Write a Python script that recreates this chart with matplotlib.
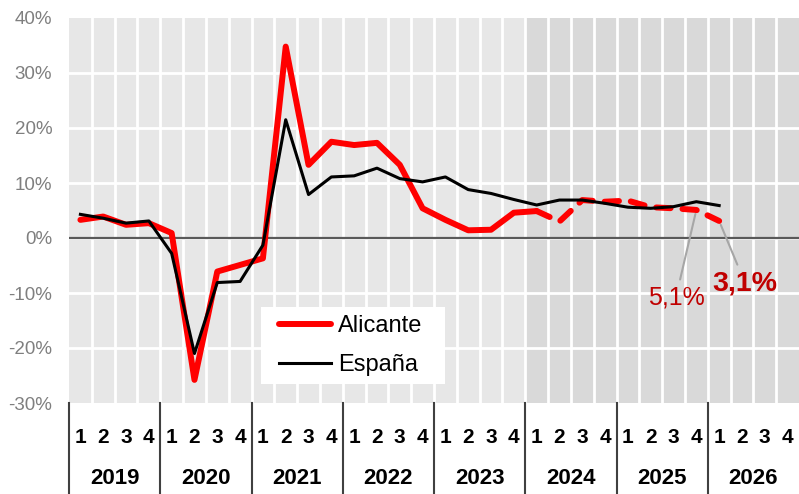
import matplotlib
matplotlib.use("Agg")
import matplotlib.pyplot as plt
from matplotlib.patches import Rectangle
from matplotlib.transforms import IdentityTransform
import numpy as np

plt.rcParams['font.family'] = ['Liberation Sans', 'DejaVu Sans']

years = ['2019', '2020', '2021', '2022', '2023', '2024', '2025', '2026']
quarter_labels = ['1', '2', '3', '4']

# Alicante observed (2019Q1 .. 2024Q1)
alicante_obs = [3.3, 3.9, 2.4, 2.7,
                0.9, -25.8, -6.1, -4.9,
                -3.7, 34.8, 13.3, 17.5,
                16.9, 17.3, 13.3, 5.4,
                3.3, 1.4, 1.5, 4.6,
                4.9]
# Alicante forecast (2024Q1 .. 2026Q1)
alicante_fc = [4.9, 3.0, 6.9, 6.6, 6.8, 5.6, 5.4, 5.1, 3.1]
# España (2019Q1 .. 2026Q1)
espana = [4.3, 3.6, 2.7, 3.1,
          -2.8, -21.0, -8.1, -7.9,
          -1.3, 21.5, 7.9, 11.1,
          11.3, 12.7, 10.8, 10.2,
          11.1, 8.8, 8.1, 7.0,
          6.0, 6.9, 6.9, 6.3,
          5.6, 5.4, 5.7, 6.6,
          5.9]
yticks = [-30, -20, -10, 0, 10, 20, 30, 40]
forecast_start = 20  # quarter index where shaded area starts
n_quarters = len(years) * 4

W, H = 799, 494
fig = plt.figure(figsize=(W / 100, H / 100), dpi=100)
left, right, top, bottom = 69, 799, 18, 403
ax = fig.add_axes([left / W, 1 - bottom / H, (right - left) / W, (bottom - top) / H])

ax.set_xlim(0, n_quarters)
ax.set_ylim(-30, 40)
ax.set_facecolor('#e7e7e7')
ax.axvspan(forecast_start, n_quarters, color='#d9d9d9', zorder=0, lw=0)

for x in range(1, n_quarters):
    ax.axvline(x, color='white', lw=2.0, zorder=1)
for y in yticks[1:-1]:
    ax.axhline(y, color='white', lw=2.0, zorder=1)
ax.axhline(0, color='#595959', lw=1.6, zorder=2)

for s in ax.spines.values():
    s.set_visible(False)

ax.set_yticks(yticks)
ax.set_yticklabels([f'{v}%' for v in yticks], color='#7f7f7f', fontsize=13.5)
ax.tick_params(axis='y', length=0, pad=12)
ax.set_xticks([])

xc = np.arange(n_quarters) + 0.5
x_obs = xc[:len(alicante_obs)]
x_fc = xc[len(alicante_obs) - 1:len(alicante_obs) - 1 + len(alicante_fc)]
x_es = xc[:len(espana)]

ax.plot(x_obs, alicante_obs, color='#ff0000', lw=4.3, solid_joinstyle='round',
        solid_capstyle='round', zorder=4, label='Alicante')
ax.plot(x_fc, alicante_fc, color='#ff0000', lw=4.3, linestyle=(0, (2.4, 2.0)),
        dash_capstyle='round', zorder=4)
ax.plot(x_es, espana, color='black', lw=2.2, zorder=5, label='España')

# annotations
ax.annotate('5,1%', xy=(xc[27], alicante_fc[7]), xytext=(676, H - 297),
            textcoords='figure pixels',
            ha='center', va='center', fontsize=18, color='#c00000',
            arrowprops=dict(arrowstyle='-', color='#a6a6a6', lw=1.5,
                            shrinkA=2, shrinkB=3))
ax.annotate('3,1%', xy=(xc[28], alicante_fc[8]), xytext=(745, H - 283),
            textcoords='figure pixels',
            ha='center', va='center', fontsize=20.5, fontweight='bold', color='#c00000',
            arrowprops=dict(arrowstyle='-', color='#a6a6a6', lw=1.5,
                            shrinkA=2, shrinkB=3))

# legend box + legend
box = Rectangle((261, H - 384), 184, 77, transform=IdentityTransform(),
                facecolor='white', edgecolor='none', zorder=5.5, clip_on=False)
ax.add_artist(box)
leg = ax.legend(loc='center left',
                bbox_to_anchor=((279 - left) / (right - left), (bottom - 345.5) / (bottom - top)),
                frameon=False, fontsize=17, handlelength=2.2, handletextpad=0.3,
                labelspacing=0.72, borderpad=0, borderaxespad=0)
leg.set_zorder(6)

# x-axis: quarter labels, year labels, separators
trans = ax.get_xaxis_transform()
for i in range(n_quarters):
    ax.text(xc[i], -(437 - bottom) / (bottom - top), quarter_labels[i % 4], transform=trans,
            ha='center', va='center', fontsize=15, fontweight='bold', color='black')
for j, yr in enumerate(years):
    ax.text(j * 4 + 2, -(478 - bottom) / (bottom - top), yr, transform=trans,
            ha='center', va='center', fontsize=16, fontweight='bold', color='black')
    ax.plot([j * 4, j * 4], [0, -(494 - bottom) / (bottom - top)], transform=trans,
            color='#404040', lw=1.5, clip_on=False)

fig.savefig('out.png', dpi=100)
